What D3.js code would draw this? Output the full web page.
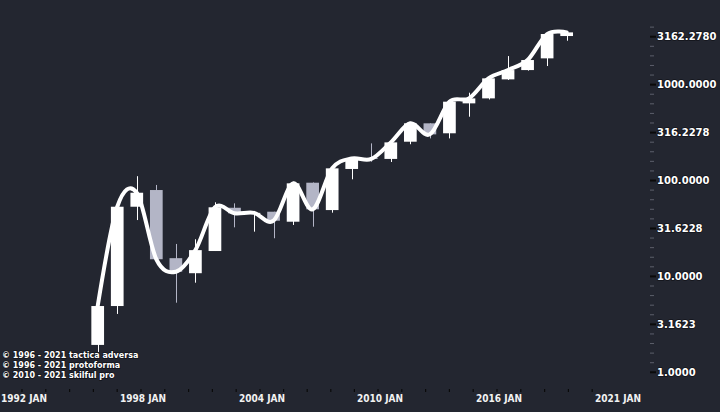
<!DOCTYPE html>
<html><head><meta charset="utf-8">
<script src="https://cdn.jsdelivr.net/npm/d3@7"></script>
<style>html,body{margin:0;padding:0;background:#232630;} svg{display:block}</style>
</head><body><svg id="c" width="720" height="412"></svg>
<script>
// ---- data ----
const years  = [1997,1998,1999,2000,2001,2002,2003,2004,2005,2006,2007,2008,2009,2010,2011,2012,2013,2014,2015,2016,2017,2018,2019,2020,2021];
const opens  = [1.93,4.91,53.3,79.6,15.5,10.8,18.4,52.0,45.0,47.3,37.2,94.9,49.2,132,172,168,254,395,311,638,719,1135,1419,1880,3213];
const highs  = [4.91,53.3,111,89.9,21.8,24.4,59.3,57.8,48.2,47.3,97.2,95.5,134,170,244,250,395,395,664,824,1163,1986,1850,3373,3623];
const lows   = [1.63,4.06,38.7,15.1,5.32,8.6,18.4,32.5,29.3,25.0,34.4,33.0,46.2,103,157,156,239,275,275,463,700,1119,1400,1563,2871];
const closes = [4.91,53.3,74.6,15.1,11.2,18.8,52.6,45.5,46.0,38.1,93.5,50.1,134,170,168,250,395,303,664,719,1163,1419,1806,3373,3509];
const yTickValues = [1, 3.1623, 10, 31.6228, 100, 316.2278, 1000, 3162.278];
const yTickLabels = ["1.0000","3.1623","10.0000","31.6228","100.0000","316.2278","1000.0000","3162.2780"];
const xTickValues = [1992.05, 1998.14, 2004.23, 2010.27, 2016.36, 2022.45];
const xTickLabels = ["1992 JAN","1998 JAN","2004 JAN","2010 JAN","2016 JAN","2021 JAN"];
const credits = ["\u00A9 1996 - 2021 tactica adversa","\u00A9 1996 - 2021 protoforma","\u00A9 2010 - 2021 skilful pro"];

const candles = years.map((yr,i)=>({yr, o:opens[i], h:highs[i], l:lows[i], c:closes[i]}));

const svg = d3.select("#c");
const W = 720, H = 412;
svg.append("rect").attr("width",W).attr("height",H).attr("fill","#232630");

const x = d3.scaleLinear().domain([1992, 2022]).range([0, 586.2]);
const y = d3.scaleLog().domain([1, 3162.2777]).range([372.3, 36.7]);
const step = x(1993) - x(1992);
const bw = step * 0.65;

const UP = "#ffffff", DOWN = "#b3b5c6";

// wicks
svg.append("g").selectAll("line").data(candles).join("line")
  .attr("x1", d=>Math.round(x(d.yr))+0.5).attr("x2", d=>Math.round(x(d.yr))+0.5)
  .attr("y1", d=>y(d.h)).attr("y2", d=>y(d.l))
  .attr("stroke", d=>d.c>=d.o?UP:DOWN).attr("stroke-width",1);
// bodies
svg.append("g").selectAll("rect").data(candles).join("rect")
  .attr("x", d=>x(d.yr)-bw/2).attr("width", bw)
  .attr("y", d=>y(Math.max(d.o,d.c)))
  .attr("height", d=>Math.max(1, y(Math.min(d.o,d.c)) - y(Math.max(d.o,d.c))))
  .attr("fill", d=>d.c>=d.o?UP:DOWN);

// smooth close line
const line = d3.line().x(d=>x(d.yr)).y(d=>y(d.c)).curve(d3.curveCardinal.tension(0));
svg.append("path").datum(candles).attr("d", line)
  .attr("fill","none").attr("stroke","#ffffff").attr("stroke-width",4)
  .attr("stroke-linecap","round").attr("stroke-linejoin","round");

// y axis
const ax = 650;
const minorExp = d3.range(1, 37).filter(k=>k%5!==0).map(k=>Math.pow(10, k/10));
svg.append("g").selectAll("line").data(minorExp).join("line")
  .attr("x1",ax).attr("x2",ax+4).attr("y1",d=>y(d)).attr("y2",d=>y(d))
  .attr("stroke","#5c5f6b").attr("stroke-width",1);
svg.append("g").selectAll("line").data(yTickValues).join("line")
  .attr("x1",ax).attr("x2",ax+6).attr("y1",d=>y(d)).attr("y2",d=>y(d))
  .attr("stroke","#0a0a0a").attr("stroke-width",2);
svg.append("g").selectAll("text").data(yTickValues).join("text")
  .attr("x", ax+7).attr("y", d=>y(d)).attr("dy","0.36em")
  .text((d,i)=>yTickLabels[i])
  .attr("fill","#ffffff").attr("font-family","DejaVu Sans").attr("font-weight","bold").attr("font-size","10px")
  .attr("stroke","#000").attr("stroke-width",1.5).attr("stroke-opacity",0.5).attr("paint-order","stroke");

// x axis minor ticks
const xMinor = [];
for (let i=0;i<xTickValues.length-1;i++){
  const a = x(xTickValues[i]) + 21, b = x(xTickValues[i+1]) + 21;
  for (let k=0;k<5;k++) xMinor.push(x.invert(a + (b-a)*k/5));
}
svg.append("g").selectAll("line").data(xMinor).join("line")
  .attr("x1",d=>x(d)).attr("x2",d=>x(d)).attr("y1",389).attr("y2",392)
  .attr("stroke","#0a0a0a").attr("stroke-width",1.2);
svg.append("g").selectAll("text").data(xTickValues).join("text")
  .attr("x", d=>x(d)).attr("y", 402)
  .text((d,i)=>xTickLabels[i])
  .attr("fill","#f2f2f2").attr("font-family","DejaVu Sans Condensed").attr("font-weight","bold").attr("font-size","10px");

// credits
svg.append("g").selectAll("text").data(credits).join("text")
  .attr("x", 2).attr("y", (d,i)=>358 + i*9.8)
  .text(d=>d)
  .attr("fill","#ffffff").attr("font-family","DejaVu Sans").attr("font-weight","bold").attr("font-size","8px")
  .attr("stroke","#000").attr("stroke-width",1.5).attr("stroke-opacity",0.5).attr("paint-order","stroke");
</script></body></html>
